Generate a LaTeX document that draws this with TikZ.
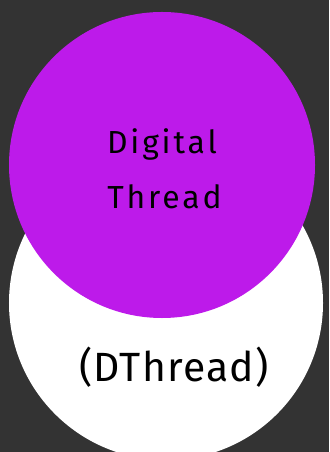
\documentclass[tikz,border=0pt]{standalone}
\usepackage{fontspec}
\setmainfont{Fira Sans}
\newfontfamily\spacedfont[LetterSpace=9]{Fira Sans}
\newfontfamily\plainfont[LetterSpace=3]{Fira Sans}
\definecolor{bgdark}{RGB}{51,51,51}
\definecolor{violet}{RGB}{189,26,234}
\begin{document}
\begin{tikzpicture}[x=1bp,y=-1bp,
  disc/.style={circle,inner sep=0pt,draw=none},
  label/.style={text=black,align=center}]
\fill[bgdark] (0,0) rectangle (329,452);
\useasboundingbox (0,0) rectangle (329,452);
\node[disc,fill=white,minimum size=314bp] (lower) at (166,303) {};
\node[disc,fill=violet,minimum size=306bp] (upper) at (162,165) {};
\node[label,font=\spacedfont\fontsize{32}{36}\selectfont] (title) at (162,144) {Digital};
\node[label,font=\spacedfont\fontsize{32}{36}\selectfont] (title2) at (164.5,197) {Thread};
\node[label,font=\plainfont\fontsize{41}{46}\selectfont] (abbr) at (174,367) {(DThread)};
\end{tikzpicture}
\end{document}
